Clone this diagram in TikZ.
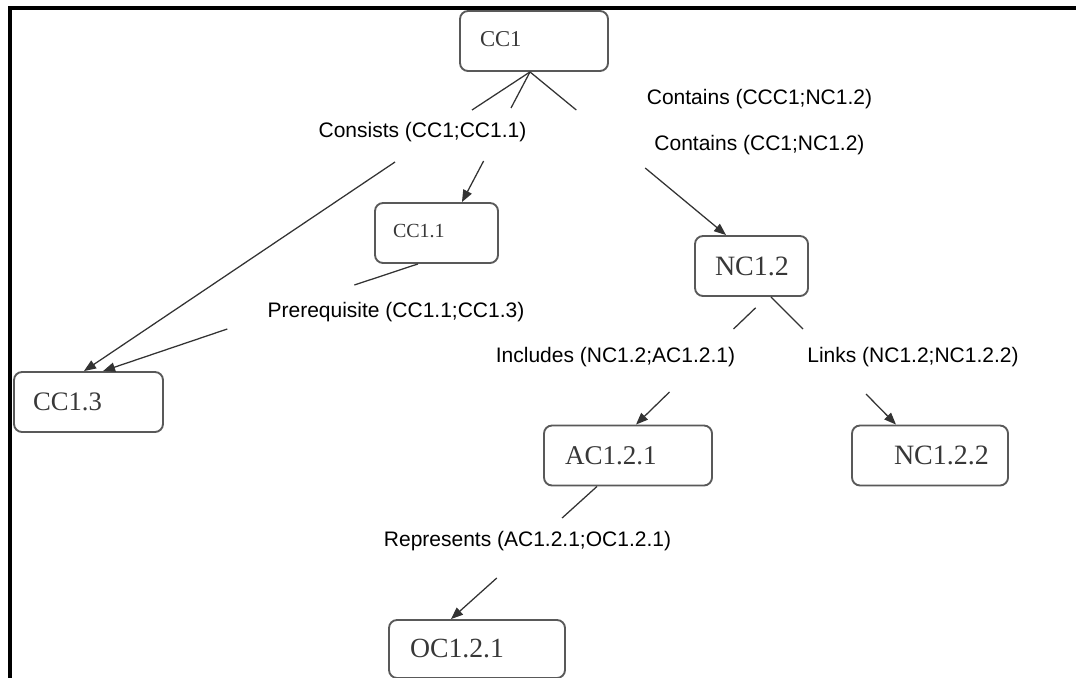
\documentclass[tikz,border=0pt]{standalone}
\usepackage{fontspec}
\usetikzlibrary{arrows.meta}
\newfontfamily\labelfont{Liberation Sans}
\newfontfamily\conceptfont{Liberation Serif}
% box content: width, left indent, font size, text
\newcommand\cnlabel[4]{\makebox[#1][l]{\hspace*{#2}\conceptfont\fontsize{#3}{#3}\selectfont #4}}
\begin{document}
\begin{tikzpicture}[x=0.75pt,y=-0.75pt,
  concept/.style={draw=black!65, line width=1.4pt, rounded corners=6pt, fill=white,
    minimum height=45pt, inner xsep=0pt, inner ysep=0pt, text=black!78},
  rel/.style={font=\labelfont\fontsize{15.75}{18}\selectfont, inner sep=0pt},
  link/.style={draw=black!80, line width=0.95pt},
  arr/.style={link, -{Triangle[length=9pt,width=7pt]}}
]
\useasboundingbox (0,0) rectangle (1076,678);

% frame
\fill (8,6) rectangle (1076,10);
\fill (8,6) rectangle (12,678);

% concepts
\node[concept] (CC1)   at (534,41)    {\cnlabel{111pt}{15pt}{17}{\raisebox{2.5pt}{CC1}}};
\node[concept] (CC11)  at (436.5,233) {\cnlabel{92.25pt}{13.5pt}{15}{\raisebox{2.5pt}{CC1.1}}};
\node[concept] (CC13)  at (88.5,402)  {\cnlabel{111.75pt}{14.25pt}{20}{CC1.3}};
\node[concept] (NC12)  at (751.5,266) {\cnlabel{84.75pt}{15pt}{21}{NC1.2}};
\node[concept] (AC121) at (628,455.5) {\cnlabel{126pt}{15.75pt}{20.3}{AC1.2.1}};
\node[concept] (NC122) at (930,455.5) {\cnlabel{117pt}{31.5pt}{21}{NC1.2.2}};
\node[concept, minimum height=43.5pt] (OC121) at (477,649) {\cnlabel{132pt}{15.75pt}{20.8}{OC1.2.1}};

% relation labels
\node[rel] (lConsists)   at (422.5,132) {Consists (CC1;CC1.1)};
\node[rel] (lContainsA)  at (759.5,99)  {Contains (CCC1;NC1.2)};
\node[rel] (lContainsB)  at (759.5,145) {Contains (CC1;NC1.2)};
\node[rel] (lPrereq)     at (396,312)   {Prerequisite (CC1.1;CC1.3)};
\node[rel] (lIncludes)   at (615.5,357) {Includes (NC1.2;AC1.2.1)};
\node[rel] (lLinks)      at (913,357)   {Links (NC1.2;NC1.2.2)};
\node[rel] (lRepresents) at (527.5,541) {Represents (AC1.2.1;OC1.2.1)};

% gap ends of the connectors
\coordinate (a1) at (472,110);   \coordinate (b1) at (395,162);
\coordinate (a2) at (511,108);   \coordinate (b2) at (483.6,161);
\coordinate (a3) at (576.3,110); \coordinate (b3) at (645.2,168);
\coordinate (a4) at (354.4,285); \coordinate (b4) at (227.3,329);
\coordinate (a5) at (733.5,329); \coordinate (b5) at (669.5,392);
\coordinate (a6) at (803,329);   \coordinate (b6) at (866,394);
\coordinate (a7) at (562.1,518); \coordinate (b7) at (496.8,578);

% CC1 -> CC1.3
\draw[link] ([xshift=-3pt]CC1.south) -- (a1);
\draw[arr] (b1) -- ([xshift=-3.4pt]CC13.north);
% CC1 -> CC1.1
\draw[link] ([xshift=-3pt]CC1.south) -- (a2);
\draw[arr] (b2) -- ([xshift=19.1pt]CC11.north);
% CC1 -> NC1.2
\draw[link] ([xshift=-3pt]CC1.south) -- (a3);
\draw[arr] (b3) -- ([xshift=-19.1pt]NC12.north);
% CC1.1 -> CC1.3
\draw[link] ([xshift=-13.9pt]CC11.south) -- (a4);
\draw[arr] (b4) -- ([xshift=10.9pt]CC13.north);
% NC1.2 -> AC1.2.1
\draw[link, shorten <=11.7pt] ([xshift=11.6pt]NC12.south) -- (a5);
\draw[arr] (b5) -- ([xshift=6pt]AC121.north);
% NC1.2 -> NC1.2.2
\draw[link] ([xshift=14.6pt]NC12.south) -- (a6);
\draw[arr] (b6) -- ([xshift=-25.5pt]NC122.north);
% AC1.2.1 -> OC1.2.1
\draw[link] ([xshift=-23.25pt]AC121.south) -- (a7);
\draw[arr] (b7) -- ([xshift=-19.5pt]OC121.north);
\end{tikzpicture}
\end{document}
